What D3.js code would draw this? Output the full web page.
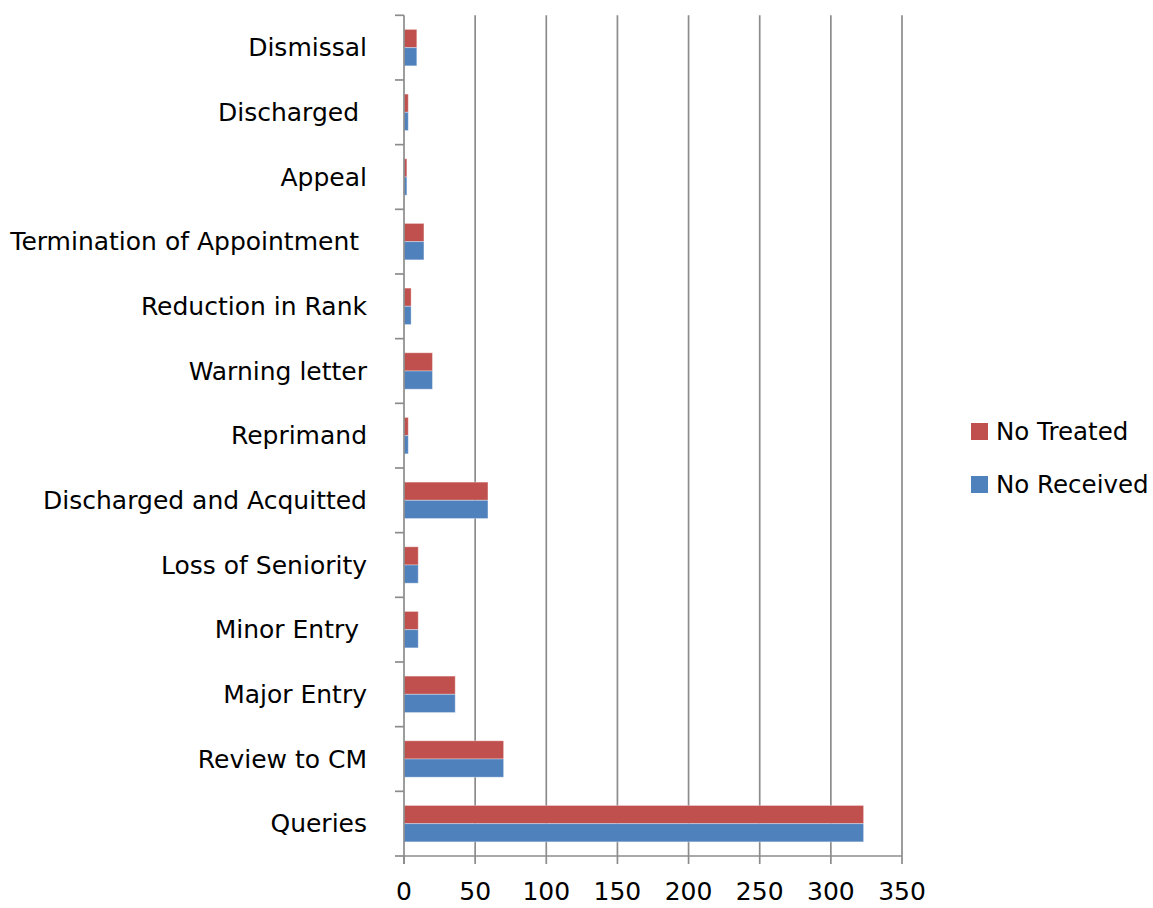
<!DOCTYPE html>
<html><head><meta charset="utf-8">
<script src="https://cdn.jsdelivr.net/npm/d3@7"></script>
<style>body{margin:0;background:#fff;} text{font-family:"Comic Sans MS","DejaVu Sans",sans-serif;}</style>
</head><body><svg id="c" width="1153" height="908"></svg>
<script>
const categories = ["Dismissal","Discharged ","Appeal","Termination of Appointment ","Reduction in Rank","Warning letter","Reprimand","Discharged and Acquitted","Loss of Seniority","Minor Entry ","Major Entry","Review to CM","Queries"];
const treated  = [9,3,2,14,5,20,3,59,10,10,36,70,323];
const received = [9,3,2,14,5,20,3,59,10,10,36,70,323];
const seriesNames = ["No Treated","No Received"];
const seriesColors = ["#C0504D","#4F81BD"];
const xTicks = [0,50,100,150,200,250,300,350];

(function(){
const svg = d3.select("#c");
const pLeft = 404, pRight = 902, pTop = 15.3, pBottom = 856;
const x = d3.scaleLinear().domain([0,350]).range([pLeft,pRight]);
const y = d3.scaleBand().domain(categories).range([pTop,pBottom]).paddingInner(0.437).paddingOuter(0.2185);
const ys = d3.scaleBand().domain(seriesNames).range([0,y.bandwidth()]);

svg.append("g").selectAll("line").data(xTicks.slice(1)).join("line")
  .attr("x1",d=>x(d)).attr("x2",d=>x(d)).attr("y1",pTop).attr("y2",pBottom)
  .attr("stroke","#8c8c8c").attr("stroke-width",1.7);

const data = [treated, received];
const g = svg.append("g");
categories.forEach((c,i)=>{
  seriesNames.forEach((s,j)=>{
    g.append("rect").attr("x",x(0)).attr("y",y(c)+ys(s))
      .attr("width",x(data[j][i])-x(0)).attr("height",ys.bandwidth())
      .attr("fill",seriesColors[j]).attr("stroke","#ffffff").attr("stroke-opacity",0.35).attr("stroke-width",1);
  });
});

const yAxis = svg.append("g");
yAxis.append("line").attr("x1",pLeft).attr("x2",pLeft).attr("y1",pTop).attr("y2",pBottom+8)
  .attr("stroke","#8c8c8c").attr("stroke-width",1.7);
const bounds = categories.map(c=>y(c)-y.step()*y.paddingInner()/2);
bounds.push(pBottom);
yAxis.selectAll("line.t").data(bounds).join("line").attr("class","t")
  .attr("x1",pLeft-9).attr("x2",pLeft).attr("y1",d=>d).attr("y2",d=>d)
  .attr("stroke","#8c8c8c").attr("stroke-width",1.7);
yAxis.selectAll("text").data(categories).join("text")
  .attr("x",367).attr("y",d=>y(d)+y.bandwidth()/2).attr("dy","0.35em")
  .attr("text-anchor","end").attr("font-size",25).attr("fill","#000")
  .style("white-space","pre").text(d=>d);

const xAxis = svg.append("g");
xAxis.append("line").attr("x1",pLeft).attr("x2",pRight).attr("y1",pBottom).attr("y2",pBottom)
  .attr("stroke","#8c8c8c").attr("stroke-width",1.7);
xAxis.selectAll("line.t").data(xTicks).join("line").attr("class","t")
  .attr("x1",d=>x(d)).attr("x2",d=>x(d)).attr("y1",pBottom).attr("y2",pBottom+8)
  .attr("stroke","#8c8c8c").attr("stroke-width",1.7);
xAxis.selectAll("text").data(xTicks).join("text")
  .attr("x",d=>x(d)).attr("y",900).attr("text-anchor","middle")
  .attr("font-size",25).attr("fill","#000").text(d=>d);

const leg = svg.append("g");
seriesNames.forEach((s,j)=>{
  const yy = 423 + j*53;
  leg.append("rect").attr("x",971).attr("y",yy).attr("width",17).attr("height",17).attr("fill",seriesColors[j]);
  leg.append("text").attr("x",996).attr("y",yy+8.5).attr("dy","0.35em").attr("font-size",24.5).attr("fill","#000").text(s);
});
})();
</script></body></html>
